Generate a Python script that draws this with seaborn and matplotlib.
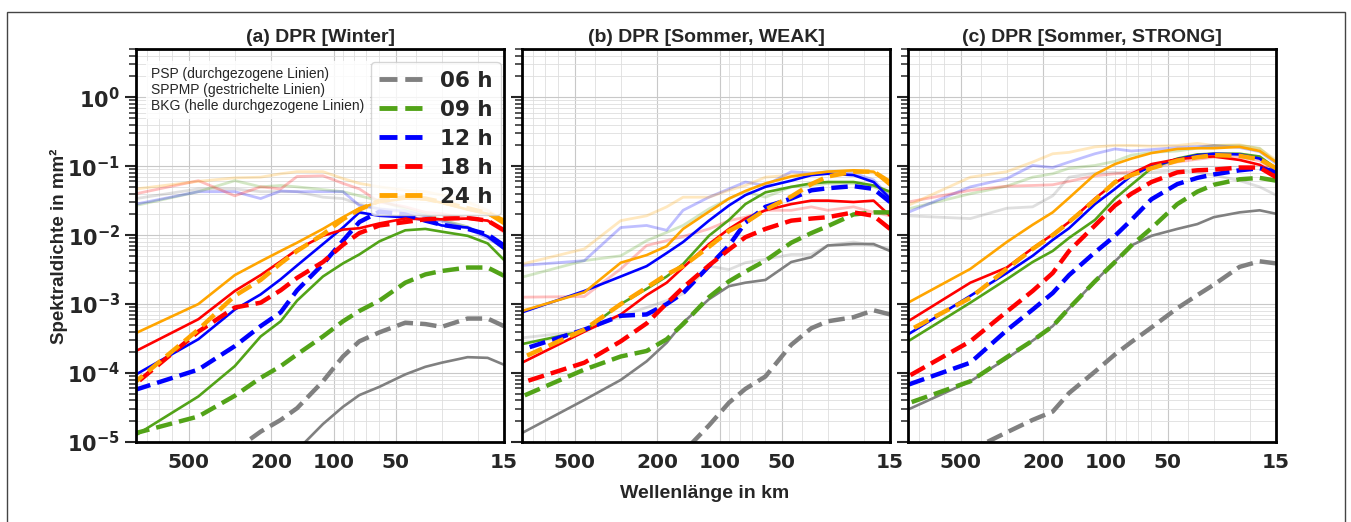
import numpy as np
import pandas as pd
import matplotlib.pyplot as plt
import seaborn as sns
from matplotlib.lines import Line2D
from matplotlib.patches import Rectangle
from matplotlib.ticker import FixedLocator, FuncFormatter, NullFormatter, LogLocator

sns.set_style("ticks")
plt.rcParams["font.family"] = ["DejaVu Sans"]

nan = np.nan

# Wellenlängen (km) und Zeiten
wavelength = [900, 450, 300, 225, 180, 150, 112.5, 90, 75, 60, 45, 36, 30, 22.5, 18, 15]
times = ["06 h", "09 h", "12 h", "18 h", "24 h"]
colors = ["grey", "#52a318", "blue", "red", "orange"]
titles = ["(a) DPR [Winter]", "(b) DPR [Sommer, WEAK]", "(c) DPR [Sommer, STRONG]"]
xticks = [500, 200, 100, 50, 15]

# Spektraldichte als log10-Werte (je Zeile: 06, 09, 12, 18, 24 h)
psp_winter = [
    [nan, nan, nan, nan, nan, -5.12, -4.74, -4.49, -4.32, -4.20, -4.02, -3.91, -3.85, -3.77, -3.78, -3.88],
    [-4.90, -4.34, -3.90, -3.47, -3.25, -2.95, -2.60, -2.41, -2.28, -2.09, -1.93, -1.91, -1.95, -2.01, -2.12, -2.36],
    [-4.02, -3.51, -3.08, -2.86, -2.64, -2.44, -2.13, -1.89, -1.67, -1.72, -1.74, -1.78, -1.86, -1.89, -2.02, -2.20],
    [-3.68, -3.22, -2.81, -2.58, -2.38, -2.21, -2.01, -1.92, -1.90, -1.83, -1.76, -1.77, -1.77, -1.76, -1.79, -1.93],
    [-3.42, -3.00, -2.58, -2.38, -2.23, -2.11, -1.91, -1.74, -1.61, -1.52, -1.47, -1.48, -1.53, -1.63, -1.69, -1.84],
]
sppmp_winter = [
    [nan, nan, -5.12, -4.85, -4.68, -4.51, -4.12, -3.76, -3.54, -3.41, -3.27, -3.29, -3.33, -3.21, -3.21, -3.32],
    [-4.87, -4.63, -4.33, -4.07, -3.90, -3.73, -3.47, -3.25, -3.10, -2.95, -2.69, -2.57, -2.52, -2.47, -2.47, -2.59],
    [-4.24, -3.95, -3.61, -3.32, -3.12, -2.80, -2.42, -2.08, -1.81, -1.66, -1.70, -1.79, -1.85, -1.91, -1.99, -2.15],
    [-4.15, -3.40, -3.05, -2.98, -2.80, -2.62, -2.39, -2.14, -1.97, -1.86, -1.81, -1.77, -1.76, -1.75, -1.79, -1.93],
    [-4.12, -3.37, -2.88, -2.65, -2.41, -2.23, -1.99, -1.77, -1.63, -1.50, -1.45, -1.47, -1.52, -1.61, -1.68, -1.79],
]
bkg_winter = [
    [-1.47, -1.33, -1.33, -1.37, -1.37, -1.37, -1.45, -1.47, -1.55, -1.62, -1.67, -1.72, -1.78, -1.88, -2.02, -2.20],
    [-1.57, -1.37, -1.21, -1.30, -1.28, -1.30, -1.34, -1.37, -1.43, -1.50, -1.62, -1.70, -1.78, -1.88, -2.02, -2.20],
    [-1.55, -1.37, -1.37, -1.47, -1.36, -1.37, -1.37, -1.37, -1.57, -1.62, -1.65, -1.72, -1.80, -1.90, -2.05, -2.18],
    [-1.40, -1.21, -1.43, -1.30, -1.33, -1.15, -1.14, -1.25, -1.33, -1.52, -1.59, -1.67, -1.69, -1.76, -1.79, -1.96],
    [-1.33, -1.22, -1.17, -1.16, -1.11, -1.08, -1.08, -1.18, -1.25, -1.30, -1.35, -1.37, -1.42, -1.52, -1.64, -1.79],
]

psp_weak = [
    [-4.87, -4.39, -4.10, -3.83, -3.56, -3.27, -2.93, -2.74, -2.69, -2.65, -2.39, -2.32, -2.15, -2.13, -2.13, -2.23],
    [-3.58, -3.39, -3.00, -2.78, -2.60, -2.42, -2.01, -1.78, -1.55, -1.38, -1.30, -1.25, -1.23, -1.23, -1.28, -1.37],
    [-3.12, -2.81, -2.60, -2.45, -2.26, -2.10, -1.79, -1.57, -1.42, -1.30, -1.21, -1.13, -1.11, -1.13, -1.23, -1.47],
    [-3.85, -3.40, -3.15, -2.87, -2.69, -2.47, -2.13, -1.91, -1.76, -1.64, -1.55, -1.50, -1.50, -1.52, -1.50, -1.72],
    [-3.10, -2.83, -2.40, -2.29, -2.16, -1.91, -1.66, -1.47, -1.36, -1.25, -1.15, -1.11, -1.08, -1.06, -1.08, -1.28],
]
sppmp_weak = [
    [nan, nan, nan, nan, nan, -5.15, -4.76, -4.43, -4.23, -4.05, -3.59, -3.35, -3.25, -3.19, -3.09, -3.15],
    [-4.34, -3.95, -3.76, -3.68, -3.51, -3.29, -2.90, -2.67, -2.53, -2.37, -2.11, -1.97, -1.87, -1.70, -1.67, -1.67],
    [-3.66, -3.37, -3.17, -3.15, -3.00, -2.84, -2.45, -2.15, -1.82, -1.59, -1.47, -1.35, -1.32, -1.29, -1.33, -1.52],
    [-4.14, -3.85, -3.54, -3.28, -2.99, -2.76, -2.44, -2.21, -2.03, -1.91, -1.79, -1.76, -1.74, -1.67, -1.72, -1.91],
    [-3.78, -3.37, -3.00, -2.76, -2.57, -2.45, -2.17, -1.94, -1.82, -1.63, -1.44, -1.26, -1.15, -1.08, -1.08, -1.23],
]
bkg_weak = [
    [-3.49, -3.39, -3.17, -3.05, -2.95, -2.85, -2.45, -2.50, -2.40, -2.35, -2.28, -2.28, -2.15, -2.10, -2.15, -2.20],
    [-2.61, -2.37, -2.30, -2.08, -1.96, -1.86, -1.62, -1.47, -1.37, -1.45, -1.30, -1.28, -1.25, -1.25, -1.30, -1.40],
    [-2.44, -2.37, -1.89, -1.86, -1.93, -1.64, -1.45, -1.33, -1.23, -1.28, -1.08, -1.10, -1.08, -1.10, -1.20, -1.45],
    [-2.90, -2.89, -2.49, -2.15, -2.08, -2.02, -1.91, -1.79, -1.74, -1.64, -1.64, -1.59, -1.64, -1.59, -1.67, -1.72],
    [-2.42, -2.20, -1.79, -1.72, -1.59, -1.45, -1.45, -1.35, -1.28, -1.16, -1.13, -1.11, -1.08, -1.07, -1.10, -1.25],
]

psp_strong = [
    [-4.53, -4.12, -3.79, -3.53, -3.32, -3.06, -2.67, -2.38, -2.15, -2.01, -1.91, -1.84, -1.74, -1.67, -1.64, -1.69],
    [-3.54, -2.98, -2.64, -2.39, -2.23, -2.04, -1.78, -1.47, -1.27, -1.03, -0.89, -0.83, -0.82, -0.82, -0.86, -1.03],
    [-3.44, -2.88, -2.55, -2.30, -2.07, -1.90, -1.55, -1.33, -1.14, -1.00, -0.90, -0.84, -0.82, -0.83, -0.89, -1.06],
    [-3.25, -2.69, -2.47, -2.19, -1.99, -1.81, -1.47, -1.24, -1.11, -0.97, -0.90, -0.87, -0.86, -0.91, -0.98, -1.11],
    [-2.98, -2.49, -2.10, -1.85, -1.67, -1.46, -1.12, -0.97, -0.89, -0.81, -0.75, -0.74, -0.74, -0.72, -0.78, -0.94],
]
sppmp_strong = [
    [nan, -5.12, -4.86, -4.68, -4.56, -4.29, -3.98, -3.73, -3.55, -3.34, -3.06, -2.87, -2.72, -2.46, -2.38, -2.41],
    [-4.44, -4.12, -3.77, -3.53, -3.32, -3.06, -2.67, -2.39, -2.15, -1.90, -1.55, -1.37, -1.27, -1.19, -1.17, -1.21],
    [-4.17, -3.85, -3.38, -3.08, -2.84, -2.58, -2.25, -2.01, -1.78, -1.48, -1.26, -1.17, -1.12, -1.06, -1.03, -1.08],
    [-4.05, -3.54, -3.11, -2.81, -2.55, -2.23, -1.86, -1.57, -1.40, -1.23, -1.09, -1.06, -1.05, -1.02, -1.02, -1.16],
    [-3.39, -2.91, -2.49, -2.20, -2.00, -1.81, -1.49, -1.23, -1.13, -1.03, -0.92, -0.87, -0.84, -0.85, -0.90, -1.03],
]
bkg_strong = [
    [-1.72, -1.76, -1.61, -1.59, -1.43, -1.16, -1.10, -1.09, -1.12, -1.09, -1.06, -1.09, -1.13, -1.21, -1.30, -1.42],
    [-1.62, -1.40, -1.29, -1.16, -1.11, -1.03, -0.99, -0.93, -0.84, -0.80, -0.78, -0.74, -0.70, -0.70, -0.74, -0.94],
    [-1.67, -1.30, -1.18, -0.99, -1.02, -0.94, -0.82, -0.75, -0.78, -0.76, -0.73, -0.72, -0.70, -0.73, -0.79, -0.96],
    [-1.52, -1.35, -1.29, -1.28, -1.27, -1.22, -1.14, -1.11, -1.08, -1.02, -0.94, -0.90, -0.87, -0.87, -0.92, -1.08],
    [-1.57, -1.16, -1.08, -0.94, -0.82, -0.80, -0.72, -0.70, -0.70, -0.71, -0.70, -0.67, -0.70, -0.69, -0.75, -0.91],
]


def to_long(rows):
    return pd.DataFrame({
        "lam": np.tile(wavelength, len(times)),
        "psd": np.power(10.0, np.ravel(rows)),
        "zeit": np.repeat(times, len(wavelength)),
    })


panels = [
    (bkg_winter, psp_winter, sppmp_winter),
    (bkg_weak, psp_weak, sppmp_weak),
    (bkg_strong, psp_strong, sppmp_strong),
]

fig, axes = plt.subplots(1, 3, figsize=(13.51, 5.22), dpi=100, sharey=True)
fig.subplots_adjust(left=0.1007, right=0.9445, bottom=0.1533, top=0.9061, wspace=0.049)

for ax, title, (bkg, psp, sppmp) in zip(axes, titles, panels):
    common = dict(x="lam", y="psd", hue="zeit", hue_order=times, palette=colors,
                  estimator=None, legend=False, ax=ax)
    sns.lineplot(data=to_long(bkg), linewidth=2.0, alpha=0.25, **common)
    sns.lineplot(data=to_long(psp), linewidth=1.9, **common)
    sns.lineplot(data=to_long(sppmp), linewidth=3.2, linestyle="--", **common)

    ax.set_xscale("log")
    ax.set_yscale("log")
    ax.set_xlim(900, 15)
    ax.set_ylim(1e-5, 5)
    ax.xaxis.set_major_locator(FixedLocator(xticks))
    ax.xaxis.set_major_formatter(FuncFormatter(lambda v, p: f"{v:g}"))
    ax.xaxis.set_minor_formatter(NullFormatter())
    ax.yaxis.set_major_locator(LogLocator(base=10, numticks=12))
    ax.yaxis.set_minor_locator(LogLocator(base=10, subs=np.arange(2, 10), numticks=12))
    ax.yaxis.set_major_formatter(FuncFormatter(lambda v, p: r"$\mathbf{10^{%d}}$" % round(np.log10(v))))
    ax.yaxis.set_minor_formatter(NullFormatter())

    ax.grid(True, which="major", color="#c8c8c8", linewidth=0.8)
    ax.grid(True, which="minor", color="#dedede", linewidth=0.6)
    ax.tick_params(axis="x", which="both", length=0, labelsize=14.5, pad=8)
    ax.tick_params(axis="y", which="major", length=8, width=1.5, labelsize=15)
    ax.tick_params(axis="y", which="minor", length=5, width=1.1)
    for s in ax.spines.values():
        s.set_visible(True)
        s.set_linewidth(2)
        s.set_color("black")
    ax.set_xlabel("")
    ax.set_ylabel("")
    ax.set_title(title, fontsize=14, fontweight="bold", family="Liberation Sans", pad=5)

for ax in axes:
    for lab in ax.get_xticklabels():
        lab.set_fontweight("bold")

# Legende (gestrichelte Linien) und Erklärung
handles = [Line2D([], [], color=c, lw=3.5, ls="--") for c in colors]
axes[0].legend(handles, times, loc="upper right", bbox_to_anchor=(1.0, 0.975),
               borderaxespad=0.15, prop=dict(size=15.5, weight="bold"),
               labelspacing=0.42, handlelength=2.0, framealpha=0.8)
axes[0].text(0.041, 0.955,
             "PSP (durchgezogene Linien)\nSPPMP (gestrichelte Linien)\nBKG (helle durchgezogene Linien)",
             transform=axes[0].transAxes, ha="left", va="top", fontsize=10,
             family="Liberation Sans", linespacing=1.2,
             bbox=dict(facecolor="white", edgecolor="none", alpha=0.85, pad=4))

fig.text(705 / 1351, 1 - 493 / 522, "Wellenlänge in km", ha="center", va="center",
         fontsize=14, fontweight="bold", family="Liberation Sans")
fig.text(59 / 1351, 1 - 246 / 522, "Spektraldichte in mm²", rotation=90, ha="center",
         va="center", fontsize=13.5, fontweight="bold", family="Liberation Sans")

fig.add_artist(Rectangle((7 / 1351, -0.05), (1345 - 7) / 1351, 1.05 - 12 / 522,
                         transform=fig.transFigure, fill=False, edgecolor="#444444", linewidth=1.0))

fig.savefig("out.png", dpi=100)
